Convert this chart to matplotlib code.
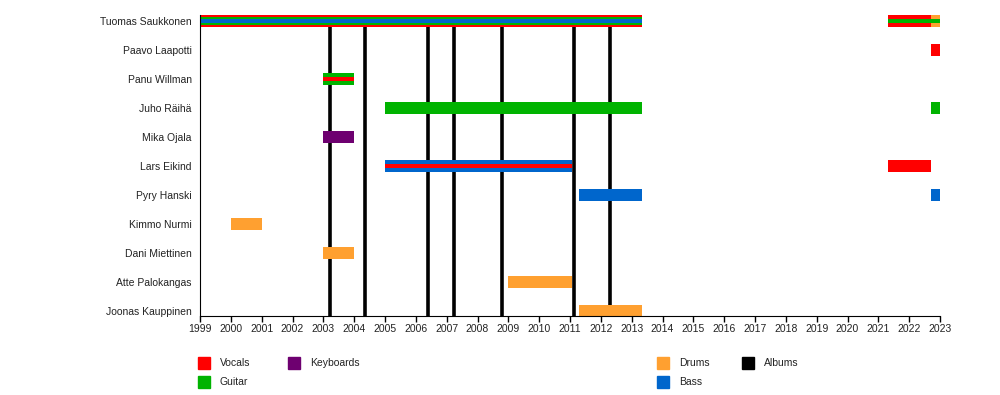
import matplotlib
matplotlib.use("Agg")
import matplotlib.pyplot as plt
from matplotlib.patches import Rectangle

plt.rcParams['font.family'] = ['Liberation Sans', 'DejaVu Sans']

members = ["Tuomas Saukkonen", "Paavo Laapotti", "Panu Willman", "Juho Räihä",
           "Mika Ojala", "Lars Eikind", "Pyry Hanski", "Kimmo Nurmi",
           "Dani Miettinen", "Atte Palokangas", "Joonas Kauppinen"]

colors = {"Vocals": "#FF0000", "Guitar": "#00B300", "Keyboards": "#6E0070",
          "Drums": "#FFA030", "Bass": "#0066CC", "Albums": "#000000"}

# (member, start, end, roles from outside to centre)
periods = [
    ("Tuomas Saukkonen", 1999.0, 2013.35, ["Vocals", "Guitar", "Bass"]),
    ("Tuomas Saukkonen", 2021.3, 2022.7, ["Vocals", "Guitar"]),
    ("Tuomas Saukkonen", 2022.7, 2023.0, ["Drums", "Guitar"]),
    ("Paavo Laapotti", 2022.7, 2023.0, ["Vocals"]),
    ("Panu Willman", 2003.0, 2004.0, ["Guitar", "Vocals"]),
    ("Juho Räihä", 2005.0, 2013.35, ["Guitar"]),
    ("Juho Räihä", 2022.7, 2023.0, ["Guitar"]),
    ("Mika Ojala", 2003.0, 2004.0, ["Keyboards"]),
    ("Lars Eikind", 2005.0, 2011.05, ["Bass", "Vocals"]),
    ("Lars Eikind", 2021.3, 2022.7, ["Vocals"]),
    ("Pyry Hanski", 2011.3, 2013.35, ["Bass"]),
    ("Pyry Hanski", 2022.7, 2023.0, ["Bass"]),
    ("Kimmo Nurmi", 2000.0, 2001.0, ["Drums"]),
    ("Dani Miettinen", 2003.0, 2004.0, ["Drums"]),
    ("Atte Palokangas", 2009.0, 2011.05, ["Drums"]),
    ("Joonas Kauppinen", 2011.3, 2013.35, ["Drums"]),
]

albums = [2003.22, 2004.35, 2006.40, 2007.24, 2008.80, 2011.13, 2012.30]

years = list(range(1999, 2024))

fig = plt.figure(figsize=(10, 3.95), dpi=100)
ax = fig.add_axes([0.2, 1 - 316 / 395, 0.74, (316 - 15) / 395])

row = {m: i for i, m in enumerate(members)}

# album lines
ax.vlines(albums, 0, 10.17, colors=colors["Albums"], linewidth=2.6, zorder=1)

stripe_h = [12 / 29, 8 / 29, 4.5 / 29]
for m, s, e, roles in periods:
    y = row[m]
    if len(roles) == 2:
        hs = [12 / 29, 4.5 / 29]
    else:
        hs = stripe_h[:len(roles)]
    for role, h in zip(roles, hs):
        ax.barh(y, e - s, left=s, height=h, color=colors[role], zorder=2, linewidth=0)

ax.set_xlim(1999, 2023)
ax.set_ylim(10.17, -0.21)
ax.set_yticks(range(len(members)))
ax.set_yticklabels(members, fontsize=7.5, color='#222222')
ax.tick_params(axis='y', length=0, pad=6)
ax.set_xticks(years)
ax.set_xticklabels([str(y) for y in years], fontsize=7.5, color='#222222')
ax.tick_params(axis='x', length=4, width=1, direction='out', pad=1.5)
ax.spines['top'].set_visible(False)
ax.spines['right'].set_visible(False)

# legend
legend_items = [("Vocals", 198, 357), ("Guitar", 198, 376), ("Keyboards", 288, 357),
                ("Drums", 657, 357), ("Bass", 657, 376), ("Albums", 742, 357)]
for name, px, py in legend_items:
    fig.patches.append(Rectangle((px / 1000, 1 - (py + 12) / 395), 12 / 1000, 12 / 395,
                                 transform=fig.transFigure, color=colors[name]))
    fig.text((px + 22) / 1000, 1 - (py + 6) / 395, name, fontsize=7.5, va='center',
             ha='left', color='#222222')

fig.savefig("out.png", dpi=100)
